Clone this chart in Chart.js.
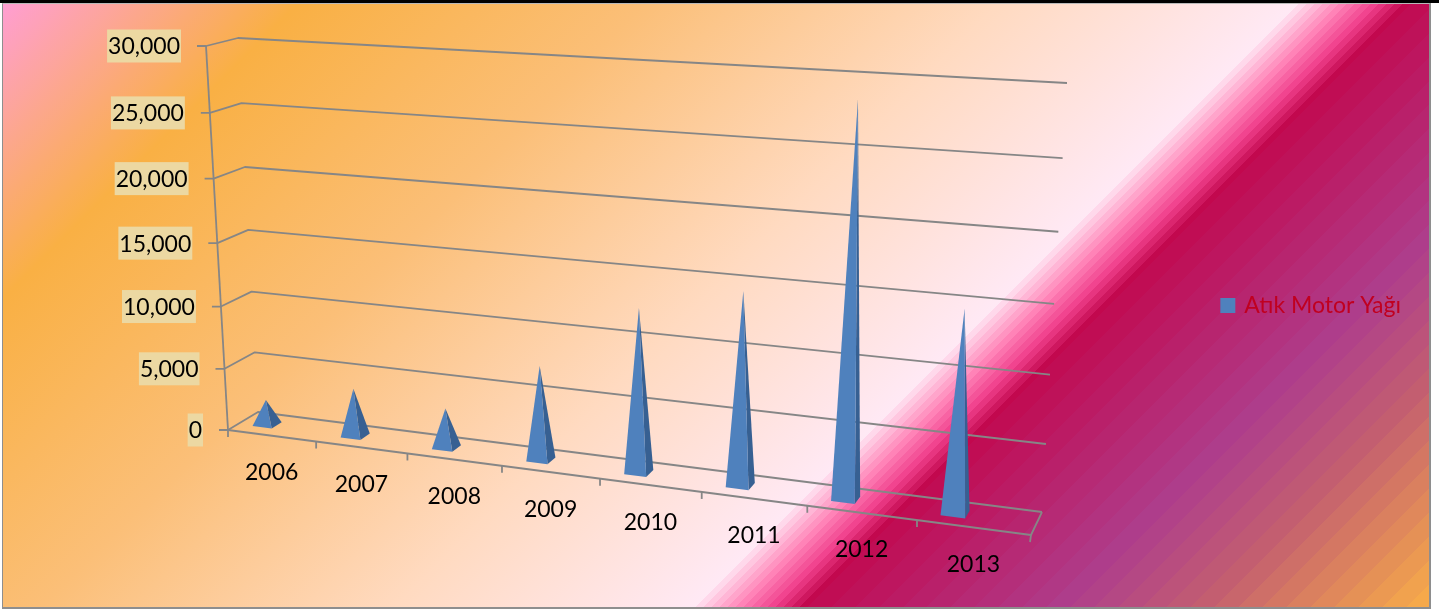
<!DOCTYPE html>
<html>
<head>
<meta charset="utf-8">
<title>Atık Motor Yağı</title>
<style>
    html, body { margin: 0; padding: 0; background: #fff; }
    #topBar { position: absolute; left: 0; top: 0; width: 1439px; height: 3px; background: #000; }
    #panel {
        position: absolute; left: 2px; top: 3px; width: 1426px; height: 603px;
        border: 2px solid #8e8e8e; border-top: 1px solid #b9b9b9; border-left-width: 1px;
    }
    #chart { position: absolute; left: 0; top: 0; }
</style>
<script src="https://cdn.jsdelivr.net/npm/chart.js@4"></script>
</head>
<body>
<div id="topBar"></div>
<div id="panel"></div>
<canvas id="chart" width="1439" height="611"></canvas>
<script>
const years = ['2006', '2007', '2008', '2009', '2010', '2011', '2012', '2013'];
const wasteOil = [2000, 3800, 3100, 7300, 12500, 14500, 28500, 14700];
const seriesName = 'Atık Motor Yağı';
const axisMax = 30000;
const axisStep = 5000;

const blueFront = '#4f81bd';
const blueSide = '#376092';
const gridColor = '#868686';
const labelFill = '#ecd8a2';

// Box corners on screen: bottom-left, bottom-right, top-right, top-left
const frontFace = [[228, 430], [1031, 535], [1057, 93], [206, 46]];
const backFace = [[258, 412], [1042, 512], [1067, 83], [238, 38]];

// Unit square to quad, the usual projective mapping
function quadMap(q) {
    const [p0, p1, p2, p3] = [q[0], q[1], q[2], q[3]];
    const dx1 = p1[0] - p2[0], dx2 = p3[0] - p2[0], sx = p0[0] - p1[0] + p2[0] - p3[0];
    const dy1 = p1[1] - p2[1], dy2 = p3[1] - p2[1], sy = p0[1] - p1[1] + p2[1] - p3[1];
    const den = dx1 * dy2 - dx2 * dy1;
    const g = (sx * dy2 - dx2 * sy) / den;
    const h = (dx1 * sy - sx * dy1) / den;
    const a = p1[0] - p0[0] + g * p1[0], b = p3[0] - p0[0] + h * p3[0];
    const d = p1[1] - p0[1] + g * p1[1], e = p3[1] - p0[1] + h * p3[1];
    return (u, v) => {
        const w = g * u + h * v + 1;
        return [(a * u + b * v + p0[0]) / w, (d * u + e * v + p0[1]) / w];
    };
}
const frontMap = quadMap(frontFace);
const backMap = quadMap(backFace);

// Scale pixels plus a depth (0 front, 1 back) to screen position
function project(chart, px, py, depth) {
    const area = chart.chartArea;
    const u = (px - area.left) / area.width;
    const v = (area.bottom - py) / area.height;
    const f = frontMap(u, v), b = backMap(u, v);
    return [f[0] + (b[0] - f[0]) * depth, f[1] + (b[1] - f[1]) * depth];
}

function polyline(ctx, pts) {
    ctx.beginPath();
    pts.forEach((p, i) => i ? ctx.lineTo(p[0], p[1]) : ctx.moveTo(p[0], p[1]));
}

class PyramidController extends Chart.BarController {
    draw() {
        const chart = this.chart, ctx = chart.ctx;
        const xs = chart.scales.x;
        const catWidth = xs.getPixelForValue(1) - xs.getPixelForValue(0);
        const halfDepth = 0.17;
        this.getMeta().data.forEach(bar => {
            const cx = bar.x - 0.22 * catWidth;
            const hw = bar.width / 2;
            const apex = project(chart, cx, bar.y, 0.5);
            const fl = project(chart, cx - hw, bar.base, 0.5 - halfDepth);
            const fr = project(chart, cx + hw, bar.base, 0.5 - halfDepth);
            const br = project(chart, cx + hw, bar.base, 0.5 + halfDepth);
            polyline(ctx, [apex, fr, br]);
            ctx.fillStyle = blueSide;
            ctx.fill();
            polyline(ctx, [apex, fl, fr]);
            ctx.fillStyle = blueFront;
            ctx.fill();
        });
    }
}
PyramidController.id = 'pyramid';
PyramidController.defaults = Chart.BarController.defaults;
Chart.register(PyramidController);

// Walls, floor, ticks and axis labels all go through the same projection
const boxAxes = {
    id: 'boxAxes',
    beforeDatasetsDraw(chart) {
        const ctx = chart.ctx, area = chart.chartArea;
        const xs = chart.scales.x, ys = chart.scales.y;
        const catWidth = xs.getPixelForValue(1) - xs.getPixelForValue(0);

        ctx.save();
        ctx.strokeStyle = gridColor;
        ctx.lineWidth = 1.8;
        ctx.lineJoin = 'round';

        ys.ticks.forEach(t => {
            const py = ys.getPixelForValue(t.value);
            const a = project(chart, area.left, py, 0);
            const b = project(chart, area.left, py, 1);
            const c = project(chart, area.right, py, 1);
            polyline(ctx, [[a[0] - 9, a[1]], a, b, c]);
            ctx.stroke();
        });

        polyline(ctx, [project(chart, area.left, area.bottom, 0), project(chart, area.left, area.top, 0)]);
        ctx.stroke();
        polyline(ctx, [
            project(chart, area.left, area.bottom, 0),
            project(chart, area.right, area.bottom, 0),
            project(chart, area.right, area.bottom, 1)
        ]);
        ctx.stroke();

        years.forEach((_, i) => {
            const p = project(chart, xs.getPixelForValue(i) - catWidth / 2, area.bottom, 0);
            polyline(ctx, [p, [p[0], p[1] + 7]]);
            ctx.stroke();
        });
        const last = project(chart, area.right, area.bottom, 0);
        polyline(ctx, [last, [last[0] - 1, last[1] + 7]]);
        ctx.stroke();

        ctx.font = '23px Lato';
        ctx.textBaseline = 'middle';
        ys.ticks.forEach(t => {
            const p = project(chart, area.left, ys.getPixelForValue(t.value), 0);
            const right = p[0] - 25;
            const w = ctx.measureText(t.label).width + 2;
            ctx.fillStyle = labelFill;
            ctx.fillRect(right - w, p[1] - 16.5, w, 33);
            ctx.fillStyle = '#000';
            ctx.textAlign = 'right';
            ctx.fillText(t.label, right - 1, p[1] + 1);
        });

        xs.ticks.forEach((t, i) => {
            const p = project(chart, xs.getPixelForValue(i), area.bottom, 0);
            ctx.fillStyle = '#000';
            ctx.textAlign = 'center';
            ctx.fillText(t.label, p[0], p[1] + 37);
        });
        ctx.restore();
    }
};

// Diagonal wash behind the chart: x + y position and colour
const washSmooth = [[5, '#ff9ed2'], [300, '#f9b044'], [650, '#fbbf78'], [1000, '#ffdac0'], [1303, '#ffe9f5']];
const washBandedA = [[1303, '#ffe9f5'], [1350, '#ff85b8'], [1385, '#f0408c'], [1415, '#c2084e']];
const washBandedB = [[1415, '#c2084e'], [1685, '#ae3e8c'], [1830, '#c4606f'], [2035, '#f6a94a']];

function hexRgb(h) {
    return [1, 3, 5].map(i => parseInt(h.substr(i, 2), 16));
}
function sampleWash(stops, t) {
    for (let i = 1; i < stops.length; i++) {
        if (t <= stops[i][0]) {
            const k = (t - stops[i - 1][0]) / (stops[i][0] - stops[i - 1][0]);
            const c0 = hexRgb(stops[i - 1][1]), c1 = hexRgb(stops[i][1]);
            return 'rgb(' + c0.map((c, n) => Math.round(c + (c1[n] - c) * k)).join(',') + ')';
        }
    }
    return stops[stops.length - 1][1];
}
function washCss() {
    const span = 2033;
    const pct = t => ((t - 5) / span * 100).toFixed(3) + '%';
    const parts = washSmooth.map(s => s[1] + ' ' + pct(s[0]));
    const addBands = (stops, step) => {
        for (let t = stops[0][0]; t < stops[stops.length - 1][0]; t += step) {
            const c = sampleWash(stops, t + step);
            parts.push(c + ' ' + pct(t), c + ' ' + pct(t + step));
        }
    };
    addBands(washBandedA, 8);
    addBands(washBandedB, 24);
    return 'linear-gradient(135deg, ' + parts.join(', ') + ')';
}
document.getElementById('panel').style.background = washCss();

Chart.defaults.font.family = 'Lato';

new Chart(document.getElementById('chart'), {
    type: 'pyramid',
    data: {
        labels: years,
        datasets: [{
            label: seriesName,
            data: wasteOil,
            backgroundColor: blueFront,
            // square legend marker is filled plus stroked, keeps it close to the text
            borderColor: blueFront,
            borderWidth: 5,
            barPercentage: 0.22,
            categoryPercentage: 1,
            clip: false
        }]
    },
    options: {
        responsive: false,
        animation: false,
        layout: { padding: { right: 28 } },
        scales: {
            x: { type: 'category', offset: true, display: false },
            y: { type: 'linear', min: 0, max: axisMax, ticks: { stepSize: axisStep }, display: false }
        },
        plugins: {
            tooltip: { enabled: false },
            legend: {
                position: 'right',
                labels: {
                    boxWidth: 10,
                    boxHeight: 10,
                    color: '#c00020',
                    font: { size: 23, family: 'Lato' }
                }
            }
        }
    },
    plugins: [boxAxes]
});
</script>
</body>
</html>
